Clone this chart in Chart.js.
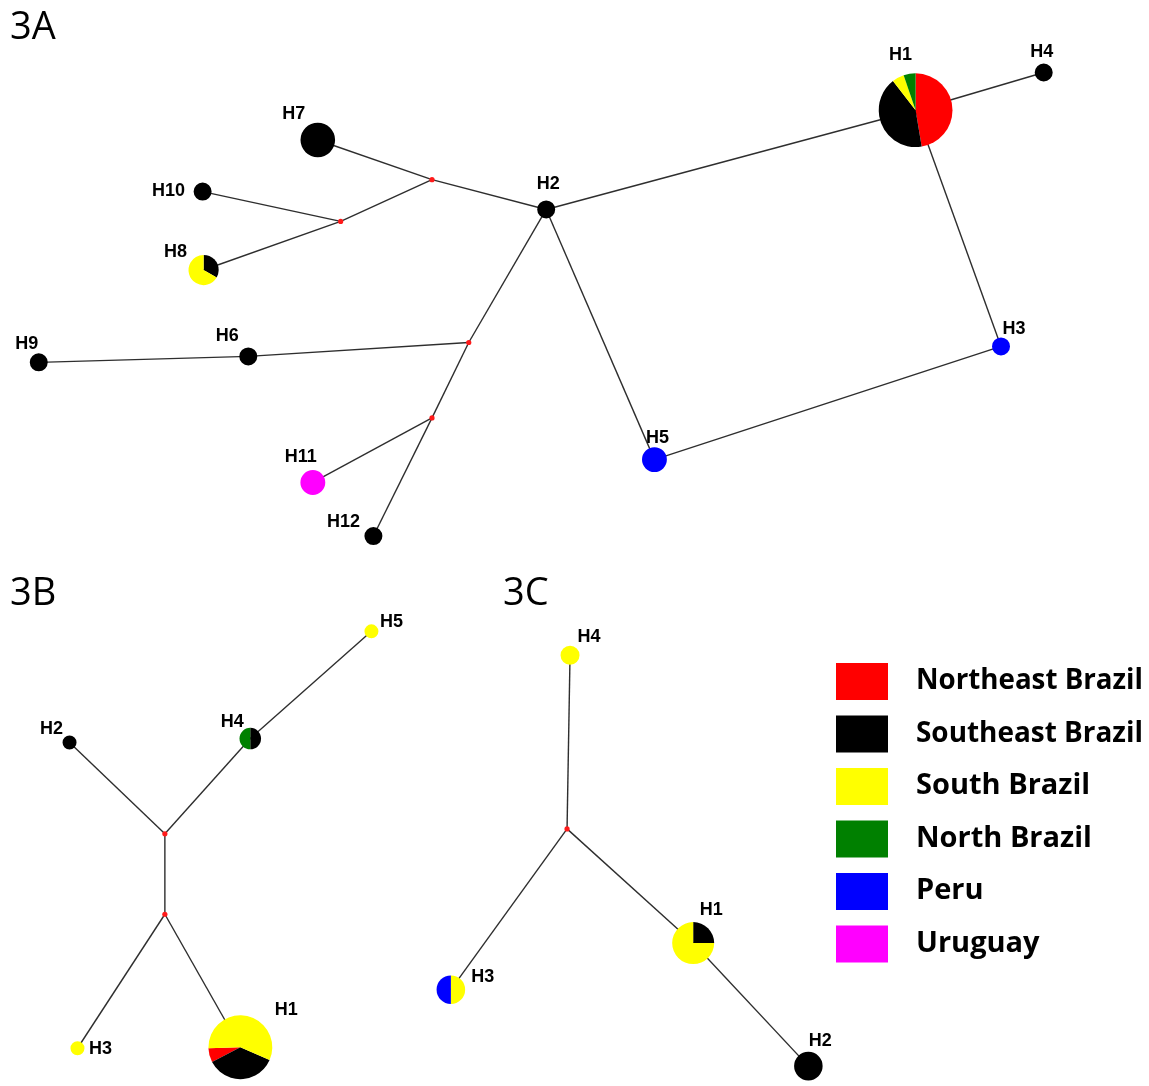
<!DOCTYPE html>
<html>
<head>
<meta charset="utf-8">
<script src="https://cdn.jsdelivr.net/npm/chart.js@4"></script>
<style>
  html, body { margin: 0; padding: 0; background: #fff; }
  #wrap { width: 1149px; height: 1086px; }
</style>
</head>
<body>
<div id="wrap"><canvas id="net"></canvas></div>
<script>
// regions (slice colours follow this order)
const regions = ["Northeast Brazil", "Southeast Brazil", "South Brazil", "North Brazil", "Peru", "Uruguay"];
const regionColors = ["#ff0000", "#000000", "#ffff00", "#008000", "#0000ff", "#ff00ff"];

// ---- network 3A ----
const hapA = ["H1", "H2", "H3", "H4", "H5", "H6", "H7", "H8", "H9", "H10", "H11", "H12"];
const hapAx = [918, 546, 1004, 1047, 655, 246, 316, 201, 35, 200, 311, 372];
const hapAy = [107, 207, 345, 69, 459, 355, 137, 268, 361, 189, 482, 536];
const countsA = [
  [9, 8, 1, 1, 0, 0],
  [0, 1, 0, 0, 0, 0],
  [0, 0, 0, 0, 1, 0],
  [0, 1, 0, 0, 0, 0],
  [0, 0, 0, 0, 2, 0],
  [0, 1, 0, 0, 0, 0],
  [0, 4, 0, 0, 0, 0],
  [0, 1, 2, 0, 0, 0],
  [0, 1, 0, 0, 0, 0],
  [0, 1, 0, 0, 0, 0],
  [0, 0, 0, 0, 0, 2],
  [0, 1, 0, 0, 0, 0]
];
const medA = ["mA1", "mA2", "mA3", "mA4"];
const medAx = [431, 339, 468, 431];
const medAy = [177, 219, 341, 417];
const edgesA = [
  ["H1", "H4"], ["H1", "H2"], ["H1", "H3"], ["H3", "H5"], ["H5", "H2"],
  ["H2", "mA1"], ["mA1", "H7"], ["mA1", "mA2"], ["mA2", "H10"], ["mA2", "H8"],
  ["H2", "mA3"], ["mA3", "H6"], ["H6", "H9"], ["mA3", "mA4"], ["mA4", "H11"], ["mA4", "H12"]
];

// ---- network 3B ----
const hapB = ["H1", "H2", "H3", "H4", "H5"];
const hapBx = [238, 66, 74, 248, 370];
const hapBy = [1051, 744, 1052, 740, 632];
const countsB = [
  [1, 5, 8, 0, 0, 0],
  [0, 1, 0, 0, 0, 0],
  [0, 0, 1, 0, 0, 0],
  [0, 1, 0, 1, 0, 0],
  [0, 0, 1, 0, 0, 0]
];
const medB = ["mB1", "mB2"];
const medBx = [162, 162];
const medBy = [836, 917];
const edgesB = [["H5", "H4"], ["H4", "mB1"], ["H2", "mB1"], ["mB1", "mB2"], ["mB2", "H3"], ["mB2", "H1"]];

// ---- network 3C ----
const hapC = ["H1", "H2", "H3", "H4"];
const hapCx = [694, 810, 450, 570];
const hapCy = [946, 1070, 993, 656];
const countsC = [
  [0, 1, 3, 0, 0, 0],
  [0, 2, 0, 0, 0, 0],
  [0, 0, 1, 0, 1, 0],
  [0, 0, 1, 0, 0, 0]
];
const medC = ["mC1"];
const medCx = [567];
const medCy = [831];
const edgesC = [["H4", "mC1"], ["mC1", "H3"], ["mC1", "H1"], ["H1", "H2"]];

// ---- styling (label offsets in px, node size formula, pie start) ----
const labelOffA = [[-15, -55], [2, -25], [13, -17], [-2, -20], [3, -22], [-21, -20], [-24, -26], [-28, -18], [-12, -18], [-34, -1], [-12, -25], [-30, -14]];
const labelOffB = [[46, -37], [-18, -13], [23, 1], [-18, -17], [20, -9]];
const labelOffC = [[18, -33], [12, -25], [32, -13], [19, -18]];

const panels = [
  { title: "3A", tx: 10, ty: 28, names: hapA, xs: hapAx, ys: hapAy, counts: countsA, med: medA, mx: medAx, my: medAy, edges: edgesA, off: labelOffA, ra: 0.7, rb: 8.3 },
  { title: "3B", tx: 10, ty: 594, names: hapB, xs: hapBx, ys: hapBy, counts: countsB, med: medB, mx: medBx, my: medBy, edges: edgesB, off: labelOffB, ra: -2.1, rb: 9.1,
    pieStart: { H1: [268, -1] } },
  { title: "3C", tx: 503, ty: 594, names: hapC, xs: hapCx, ys: hapCy, counts: countsC, med: medC, mx: medCx, my: medCy, edges: edgesC, off: labelOffC, ra: -2, rb: 11.5 }
];

function nodePos(p, name) {
  let i = p.names.indexOf(name);
  if (i >= 0) return { x: p.xs[i], y: p.ys[i] };
  i = p.med.indexOf(name);
  return { x: p.mx[i], y: p.my[i] };
}

// line datasets for every edge
const datasets = [];
panels.forEach(p => {
  p.edges.forEach(([a, b]) => {
    datasets.push({
      type: 'line',
      order: 2,
      data: [nodePos(p, a), nodePos(p, b)],
      borderColor: '#2e2e2e',
      borderWidth: 1.4,
      pointRadius: 0,
      fill: false
    });
  });
});
// median vectors (drawn above the edges)
datasets.push({
  type: 'scatter',
  order: 0,
  data: panels.flatMap(p => p.mx.map((x, i) => ({ x: x, y: p.my[i] }))),
  backgroundColor: '#ff1a1a',
  borderColor: '#ff1a1a',
  borderWidth: 0,
  pointRadius: 2.6
});
// haplotype nodes (pies drawn by plugin at these points)
panels.forEach((p, pi) => {
  datasets.push({
    type: 'scatter',
    order: 1,
    label: 'nodes' + pi,
    data: p.xs.map((x, i) => ({ x: x, y: p.ys[i] })),
    pointRadius: 0
  });
});

const networkPlugin = {
  id: 'network',
  afterDatasetsDraw(chart) {
    const ctx = chart.ctx;
    const xs = chart.scales.x, ys = chart.scales.y;
    ctx.save();

    panels.forEach(p => {
      p.names.forEach((name, i) => {
        const cx = xs.getPixelForValue(p.xs[i]);
        const cy = ys.getPixelForValue(p.ys[i]);
        const c = p.counts[i];
        const total = c.reduce((s, v) => s + v, 0);
        const r = p.ra + p.rb * Math.sqrt(total);
        const st = (p.pieStart && p.pieStart[name]) || [0, 1];
        let ang = (st[0] - 90) * Math.PI / 180;
        const dir = st[1];
        c.forEach((v, k) => {
          if (!v) return;
          const sweep = dir * v / total * Math.PI * 2;
          ctx.beginPath();
          ctx.moveTo(cx, cy);
          ctx.arc(cx, cy, r, ang, ang + sweep, dir < 0);
          ctx.closePath();
          ctx.fillStyle = regionColors[k];
          ctx.fill();
          ang += sweep;
        });
        // label
        ctx.font = 'bold 18px "Liberation Sans", Arial, sans-serif';
        ctx.fillStyle = '#000';
        ctx.textAlign = 'center';
        ctx.textBaseline = 'middle';
        ctx.fillText(name, cx + p.off[i][0], cy + p.off[i][1]);
      });
      // panel title
      ctx.font = '38px "Open Sans", sans-serif';
      ctx.textAlign = 'left';
      ctx.textBaseline = 'middle';
      ctx.fillStyle = '#000';
      ctx.fillText(p.title, p.tx, p.ty);
    });

    // legend
    regions.forEach((name, k) => {
      const top = 663 + k * 52.5;
      ctx.fillStyle = regionColors[k];
      ctx.fillRect(836, top, 52, 37);
      ctx.fillStyle = '#000';
      ctx.font = 'bold 29px "Open Sans", sans-serif';
      ctx.textAlign = 'left';
      ctx.textBaseline = 'middle';
      ctx.fillText(name, 916, top + 18, name.length > 10 ? 227 : undefined);
    });
    ctx.restore();
  }
};

new Chart(document.getElementById('net'), {
  type: 'scatter',
  data: { datasets: datasets },
  options: {
    responsive: true,
    maintainAspectRatio: false,
    animation: false,
    layout: { padding: 0 },
    plugins: { legend: { display: false }, tooltip: { enabled: false } },
    scales: {
      x: { type: 'linear', min: 0, max: 1149, display: false },
      y: { type: 'linear', min: 0, max: 1086, reverse: true, display: false }
    }
  },
  plugins: [networkPlugin]
});
</script>
</body>
</html>
